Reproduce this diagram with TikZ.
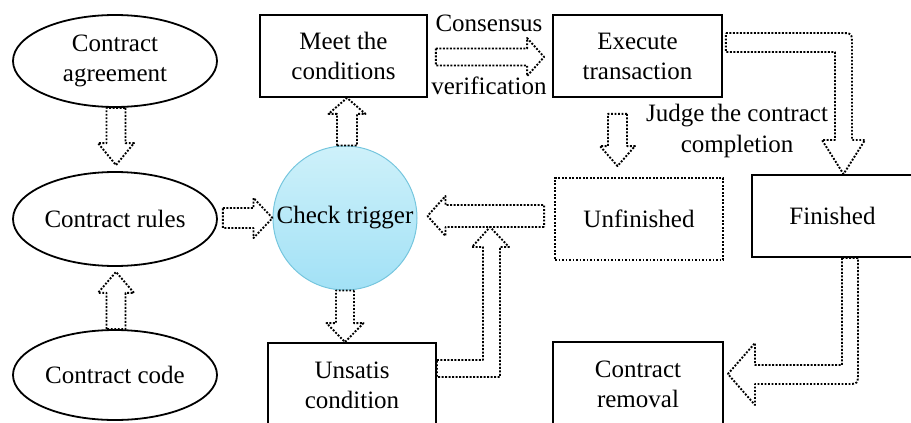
\documentclass[tikz,border=0pt]{standalone}
\usepackage{fontspec}
\setmainfont{Liberation Serif}
\usetikzlibrary{shapes.geometric,calc}

% Hollow dotted block arrow from #1 (tail) to #2 (tip):
% #3 half shaft width, #4 half head width, #5 head length (all in pt)
\newcommand\blockarrow[5]{%
  \path (#1) coordinate (ba-tail) (#2) coordinate (ba-tip)
        ($(ba-tip)!#5pt!(ba-tail)$) coordinate (ba-base);
  \draw[blk]
    ($(ba-tail)!#3pt!90:(ba-tip)$) -- ($(ba-base)!#3pt!90:(ba-tip)$)
    -- ($(ba-base)!#4pt!90:(ba-tip)$) -- (ba-tip)
    -- ($(ba-base)!#4pt!-90:(ba-tip)$) -- ($(ba-base)!#3pt!-90:(ba-tip)$)
    -- ($(ba-tail)!#3pt!-90:(ba-tip)$) -- cycle;}

\begin{document}
\begin{tikzpicture}[x=1pt,y=-1pt,
  every node/.style={font=\fontsize{25}{30}\selectfont, align=center, inner sep=0pt},
  oval/.style={ellipse, draw, line width=1.8pt, minimum width=204pt, minimum height=92pt},
  box/.style={rectangle, draw, line width=1.8pt},
  dotbox/.style={rectangle, draw, line width=1.9pt, dash pattern=on 1.9pt off 1.6pt},
  blk/.style={draw, line width=1.9pt, dash pattern=on 1.9pt off 1.6pt, line join=round},
  trigger/.style={circle, draw={rgb,255:red,118;green,198;blue,222}, line width=1pt,
    top color={rgb,255:red,206;green,241;blue,250},
    bottom color={rgb,255:red,162;green,225;blue,246}, minimum size=144pt},
  label/.style={font=\fontsize{25}{31}\selectfont}
]
\useasboundingbox (0,0) rectangle (911,423);
\clip (0,0) rectangle (911,423);

% left column: contract sources
\node[oval] (agree) at (115,61) {Contract\\agreement};
\node[oval, minimum height=94pt] (rules) at (115,219) {Contract rules};
\node[oval, minimum height=90pt] (code) at (115,375) {Contract code};

% trigger
\node[trigger] (trig) at (345,218) {Check trigger};

% state boxes
\node[box, minimum width=167pt, minimum height=82pt] (meet) at (343.5,56) {Meet the\\conditions};
\node[box, minimum width=169pt, minimum height=82pt] (exec) at (637.5,56) {Execute\\transaction};
\node[dotbox, minimum width=168pt, minimum height=82pt] (unf) at (639,219) {Unfinished};
\node[box, minimum width=161pt, minimum height=82pt] (fin) at (832.5,216) {Finished};
\node[box, minimum width=168pt, minimum height=84pt] (unsat) at (352,385) {Unsatis\\condition};
\node[box, minimum width=170pt, minimum height=84pt] (rem) at (638,384) {Contract\\removal};

% labels
\node[label] (cons) at (489,23) {Consensus};
\node[label] (veri) at (489,86) {verification};
\node[label] (judge) at (737,131) {Judge the contract\\completion};

% straight block arrows
\coordinate (a1t) at ($(agree.south)+(1,0)$);
\coordinate (a1h) at ($(rules.north)+(1,-6)$);
\blockarrow{a1t}{a1h}{9.5}{18}{22}

\coordinate (a2t) at ($(code.north)+(1,0)$);
\coordinate (a2h) at ($(rules.south)+(1,5)$);
\blockarrow{a2t}{a2h}{9.5}{18}{21}

\coordinate (a3t) at ($(rules.east)+(5,-1)$);
\coordinate (a3h) at (a3t -| trig.west);
\blockarrow{a3t}{a3h}{10}{20}{19}

\coordinate (a4t) at ($(trig.north)+(2,0)$);
\coordinate (a4h) at (a4t |- meet.south);
\blockarrow{a4t}{a4h}{10}{18.5}{16}

\coordinate (a5t) at ($(meet.east)+(8,1)$);
\coordinate (a5h) at ($(a5t -| exec.west)+(-8,0)$);
\blockarrow{a5t}{a5h}{8.5}{19}{17}

\coordinate (a6t) at ($(exec.south)+(-20,16)$);
\coordinate (a6h) at ($(a6t |- unf.north)+(0,-11)$);
\blockarrow{a6t}{a6h}{9.5}{17.5}{20}

\coordinate (a7t) at (trig.south);
\coordinate (a7h) at (a7t |- unsat.north);
\blockarrow{a7t}{a7h}{9}{18.5}{19}

\coordinate (a8t) at ($(unf.west)+(-10,-3)$);
\coordinate (a8h) at ($(a8t -| trig.east)+(10,0)$);
\blockarrow{a8t}{a8h}{11}{20}{18}

% bent block arrows
\coordinate (a9h) at ($(a8t)+(-54,11)$);
\draw[blk] (unsat.east |- 0,360) -- (483,360) -- (483,247) -- (472,247) -- (a9h)
  -- (509,247) -- (500,247) -- (500,377) -- (unsat.east |- 0,377) -- cycle;

\coordinate (a10h) at (fin.north -| 843.5,0);
\draw[blk] ($(exec.east)+(3,-23)$) -- (840,33) .. controls (852,33) .. (852,45)
  -- (852,140) -- (865,140) -- (a10h) -- (822,140) -- (835,140) -- (835,52)
  -- ($(exec.east)+(3,-4)$) -- cycle;

\coordinate (a11h) at ($(rem.east)+(4,-10)$);
\draw[blk] (fin.south -| 842,0) -- (842,365) -- (755,365) -- (755,343) -- (a11h)
  -- (755,405) -- (755,384) -- (846,384) .. controls (858,384) .. (858,372)
  -- (fin.south -| 858,0) -- cycle;
\end{tikzpicture}
\end{document}
